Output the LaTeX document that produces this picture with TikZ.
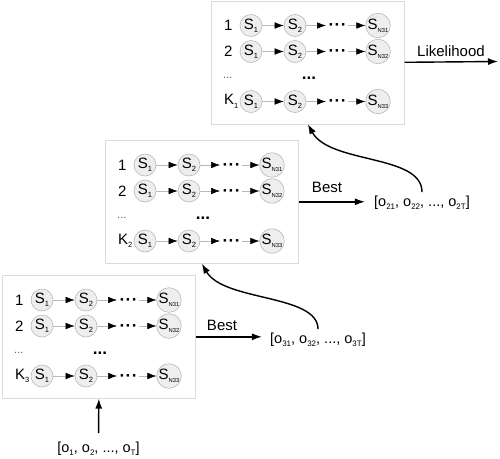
\documentclass[tikz,border=0pt]{standalone}
\usepackage{fontspec}
\setmainfont{Liberation Sans}
\usetikzlibrary{arrows.meta}
\newcommand\sbx[1]{\raisebox{-3.4pt}{\fontsize{7.5}{7.5}\selectfont #1}}
\newcommand\sbo[1]{\raisebox{-2.6pt}{\fontsize{8}{8}\selectfont #1}}
\newcommand\sbn[1]{\raisebox{-2.8pt}{\fontsize{5.8}{5.8}\selectfont #1}}
\tikzset{
  st/.style={circle, draw=gray!55, fill=gray!13, line width=0.6pt, minimum size=22pt, inner sep=0pt, font=\fontsize{15}{15}\selectfont},
  hbox/.style={draw=gray!28, line width=0.6pt, inner sep=0pt, minimum width=193pt, minimum height=123pt, anchor=north west},
  lnk/.style={draw=gray!55, line width=0.5pt, -{Latex[length=9pt,width=6.5pt,color=black]}},
  bigarr/.style={line width=1.4pt, -{Latex[length=10pt,width=7pt]}},
  lab/.style={font=\fontsize{15}{15}\selectfont, inner sep=0pt},
  obs/.style={font=\fontsize{14.5}{14.5}\selectfont, inner sep=0pt},
  dts/.style={font=\bfseries\fontsize{17}{17}\selectfont, inner sep=0pt, anchor=base},
}
\newcommand\hmmbox[4]{%
  \node[hbox] (#1) at (#2,#3) {};
  \foreach \r/\dy/\lbl in {1/25/1, 2/51/2, 3/101/{K\sbx{#4}}}{
    \node[lab, anchor=west] (#1l\r) at (#2+13,#3+\dy) {\lbl};
    \node[st] (#1a\r) at (#2+40,#3+\dy) {S\sbx{1}};
    \node[st] (#1b\r) at (#2+84,#3+\dy) {S\sbx{2}};
    \node[st] (#1c\r) at (#2+167,#3+\dy) {S\sbn{N3\r}};
    \coordinate (#1t\r) at (#2+115,#3+\dy);
    \node[dts] (#1d\r) at (#2+126.5,#3+\dy+5) {·\hspace{0.5pt}·\hspace{0.5pt}·};
    \coordinate (#1u\r) at (#2+137,#3+\dy);
    \draw[lnk] (#1a\r) -- (#1b\r);
    \draw[lnk] (#1b\r) -- (#1t\r);
    \draw[lnk] (#1u\r) -- (#1c\r);
  }
  \node[font=\fontsize{11}{11}\selectfont, text=gray!70!black, inner sep=0pt, anchor=base west] (#1le) at (#2+12,#3+78) {...};
  \node[font=\bfseries\fontsize{17}{17}\selectfont, inner sep=0pt, anchor=base] (#1me) at (#2+98,#3+79) {...};
}
\begin{document}
\begin{tikzpicture}[x=1pt,y=-1pt]
\useasboundingbox (0,0) rectangle (500,458);
\hmmbox{top}{211}{0.5}{1}
\hmmbox{mid}{105}{140}{2}
\hmmbox{bot}{2}{275}{3}
% likelihood
\coordinate (lk) at (498,61.5);
\draw[bigarr] (top.east) -- (lk);
\node[lab] (lkl) at (451,51) {Likelihood};
% middle best
\node[obs] (o2) at (422,203) {[o\sbo{21}, o\sbo{22}, ..., o\sbo{2T}]};
\draw[bigarr] (mid.east) -- (mid.east -| o2.west) [shorten >=9pt];
\node[lab] (b2) at (327,187) {Best};
\draw[bigarr] (o2.north) ++(0,-4) coordinate (o2s) .. controls +(0,-38) and +(22,40) .. (top.south);
% bottom best
\node[obs] (o3) at (318,340) {[o\sbo{31}, o\sbo{32}, ..., o\sbo{3T}]};
\draw[bigarr] (bot.east) -- (bot.east -| o3.west) [shorten >=8pt];
\node[lab] (b3) at (222,325) {Best};
\draw[bigarr] (o3.north) ++(0,-4) coordinate (o3s) .. controls +(0,-35) and +(22,38) .. (mid.south);
% input
\node[obs] (o1) at (98.5,449) {[o\sbo{1}, o\sbo{2}, ..., o\sbo{T}]};
\draw[bigarr, shorten <=9pt] (o1.north) -- (bot.south);
\end{tikzpicture}
\end{document}
